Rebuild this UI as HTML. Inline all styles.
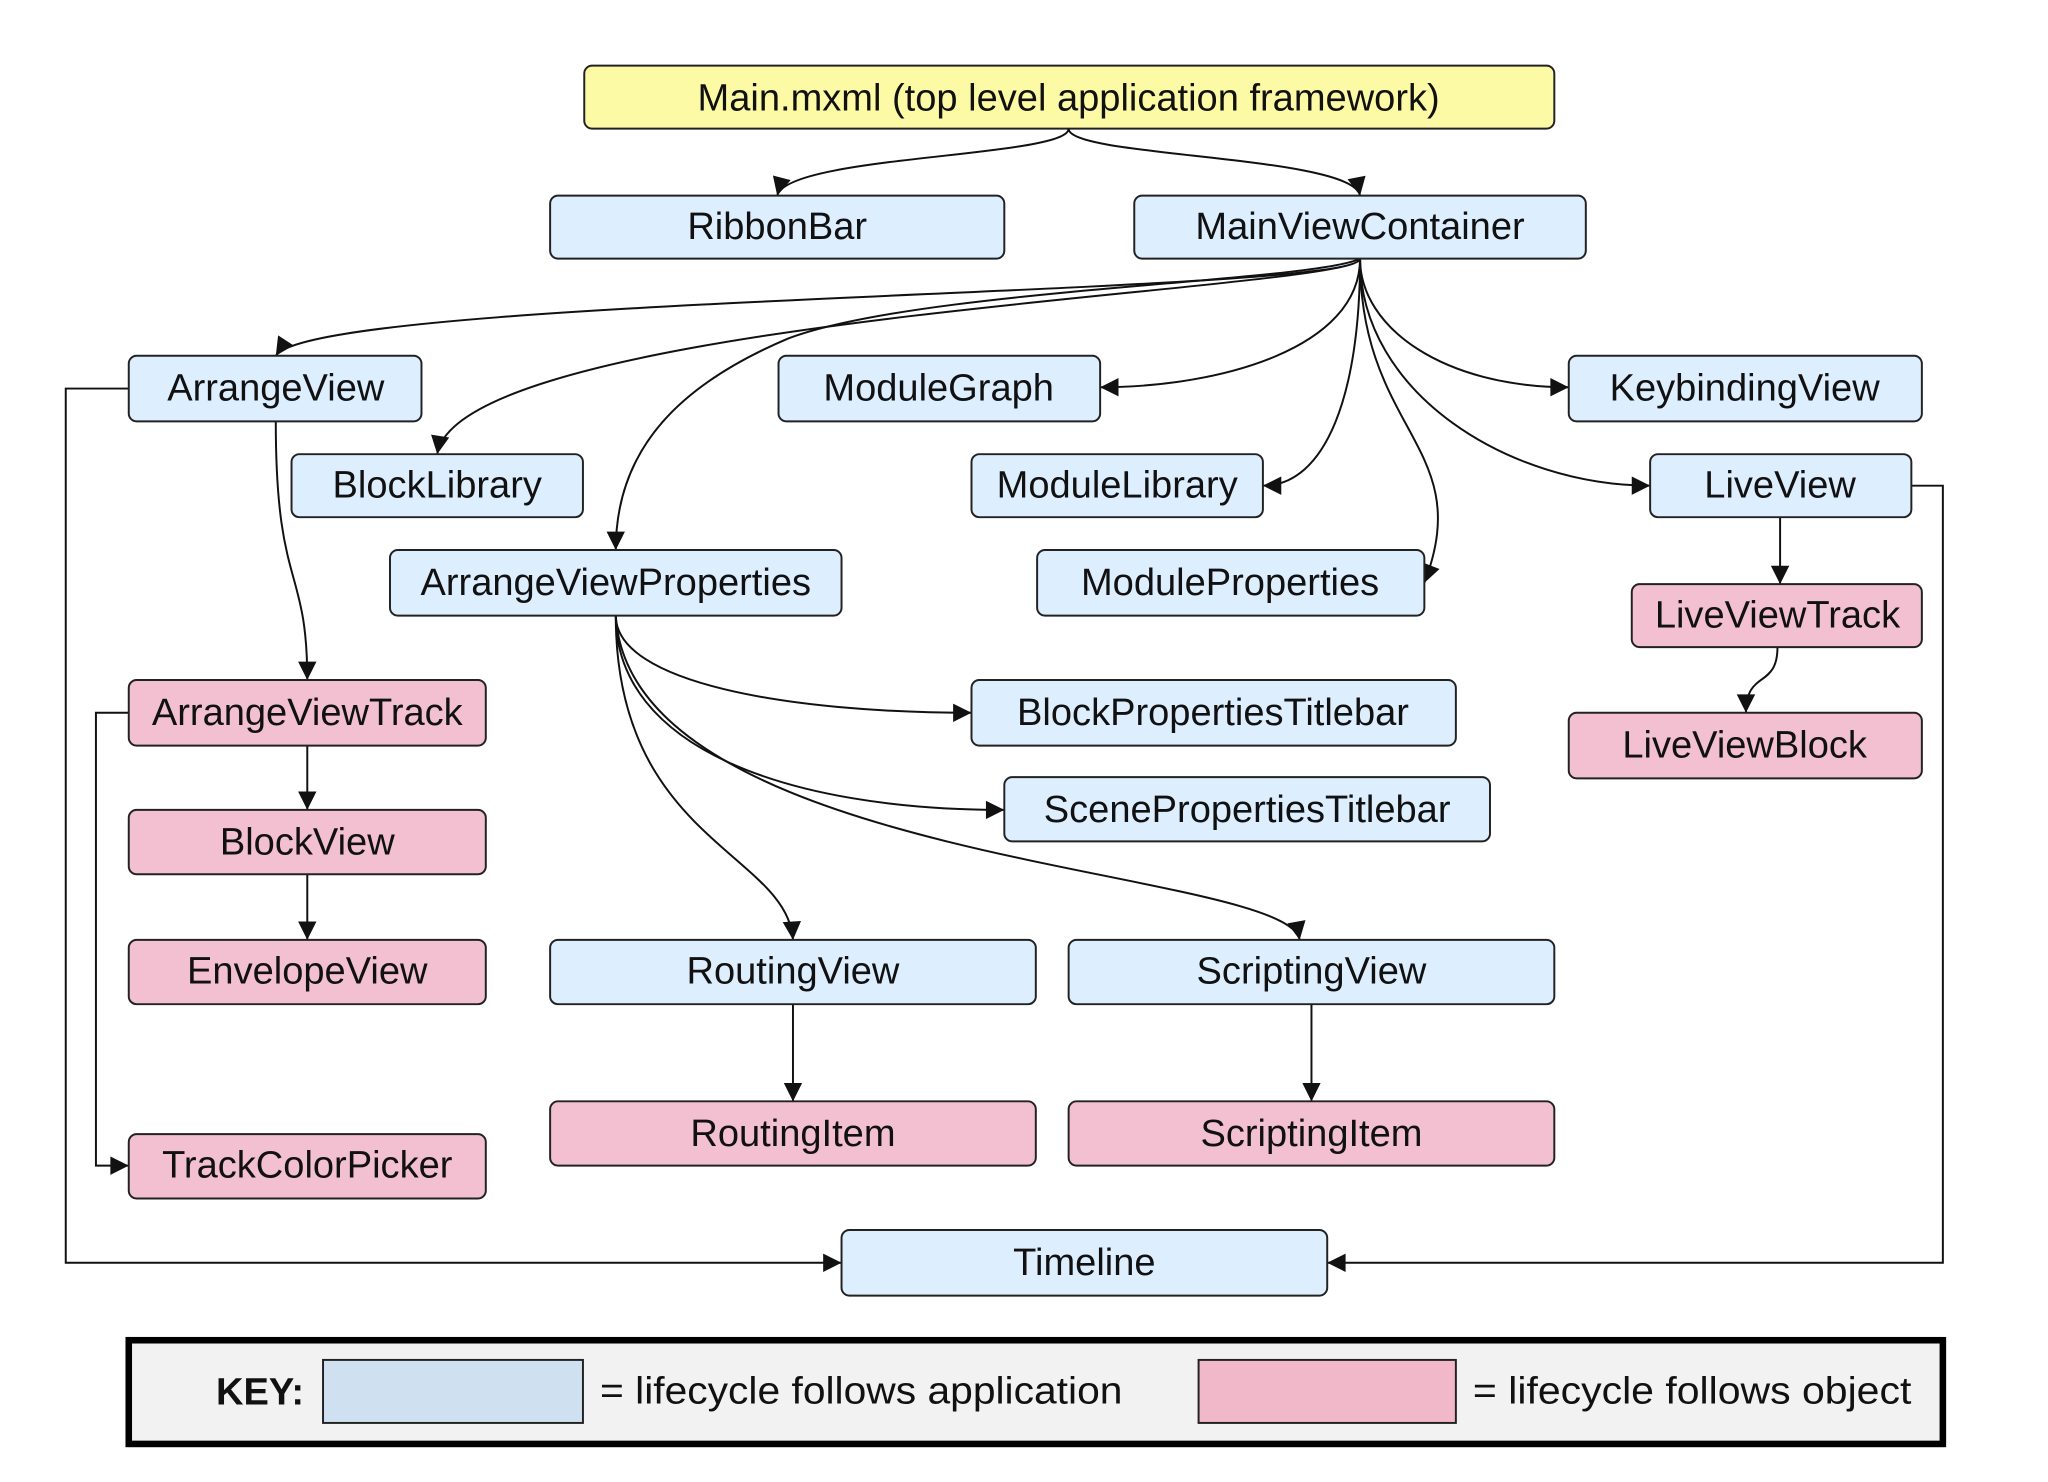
<!DOCTYPE html>
<html><head><meta charset="utf-8"><style>
html,body{margin:0;padding:0;background:#fff;}
svg{display:block;}
text{font-family:"Liberation Sans",Arial,sans-serif;font-size:29px;fill:#111;text-anchor:middle;dominant-baseline:central;}
.b{fill:#ddeeff;stroke:#222;stroke-width:1.5;}
.p{fill:#f2c0d0;stroke:#222;stroke-width:1.5;}
.e{fill:none;stroke:#111;stroke-width:1.5;}
</style></head><body>
<svg width="2048" height="1482" viewBox="0 0 1560 1129" xmlns="http://www.w3.org/2000/svg">
<defs><marker id="a" viewBox="0 0 10 10" refX="10" refY="5" markerWidth="18" markerHeight="14" markerUnits="userSpaceOnUse" orient="auto"><path d="M0,0 L10,5 L0,10 z" fill="#111"/></marker></defs>
<rect x="445" y="50" width="739" height="48" rx="6" fill="#fdfaa6" stroke="#222" stroke-width="1.5"/>
<text x="814" y="75">Main.mxml (top level application framework)</text>
<g class="e" marker-end="url(#a)">
<path d="M814,98 C814,120 600,118 592,149"/>
<path d="M814,98 C814,120 1030,118 1036,149"/>
<path d="M1036,197 C1036,225 240,225 210,271"/>
<path d="M1036,197 C1036,222 350,240 333,346"/>
<path d="M1036,197 C1000,215 700,220 600,258 C520,292 469,340 469,419"/>
<path d="M1036,197 C1036,265 930,295 838,295"/>
<path d="M1036,197 C1036,300 1010,370 962,370"/>
<path d="M1036,197 C1036,330 1125,340 1085,444"/>
<path d="M1036,197 C1036,250 1100,295 1195,295"/>
<path d="M1036,197 C1036,300 1150,370 1257,370"/>
<path d="M210,321 C210,450 234,430 234,518"/>
<path d="M98,296 L50,296 L50,962 L641,962"/>
<path d="M1456,370 L1480,370 L1480,962 L1011,962"/>
<path d="M98,543 L73,543 L73,888 L98,888"/>
<path d="M234,568 L234,617"/>
<path d="M234,666 L234,716"/>
<path d="M469,469 C469,520 600,543 740,543"/>
<path d="M469,469 C469,570 600,617 765,617"/>
<path d="M469,469 C469,640 600,650 604,716"/>
<path d="M469,469 C480,660 980,660 990,716"/>
<path d="M604,765 L604,839"/>
<path d="M999,765 L999,839"/>
<path d="M1356,394 L1356,445"/>
<path d="M1354,493 C1354,525 1330,510 1330,543"/>
</g>
<g>
<rect class="b" x="419" y="149" width="346" height="48" rx="6"/><text x="592" y="173">RibbonBar</text>
<rect class="b" x="864" y="149" width="344" height="48" rx="6"/><text x="1036" y="173">MainViewContainer</text>
<rect class="b" x="98" y="271" width="223" height="50" rx="6"/><text x="210" y="296">ArrangeView</text>
<rect class="b" x="593" y="271" width="245" height="50" rx="6"/><text x="715" y="296">ModuleGraph</text>
<rect class="b" x="1195" y="271" width="269" height="50" rx="6"/><text x="1329" y="296">KeybindingView</text>
<rect class="b" x="222" y="346" width="222" height="48" rx="6"/><text x="333" y="370">BlockLibrary</text>
<rect class="b" x="740" y="346" width="222" height="48" rx="6"/><text x="851" y="370">ModuleLibrary</text>
<rect class="b" x="1257" y="346" width="199" height="48" rx="6"/><text x="1356" y="370">LiveView</text>
<rect class="b" x="297" y="419" width="344" height="50" rx="6"/><text x="469" y="444">ArrangeViewProperties</text>
<rect class="b" x="790" y="419" width="295" height="50" rx="6"/><text x="937" y="444">ModuleProperties</text>
<rect class="p" x="1243" y="445" width="221" height="48" rx="6"/><text x="1354" y="469">LiveViewTrack</text>
<rect class="p" x="98" y="518" width="272" height="50" rx="6"/><text x="234" y="543">ArrangeViewTrack</text>
<rect class="b" x="740" y="518" width="369" height="50" rx="6"/><text x="924" y="543">BlockPropertiesTitlebar</text>
<rect class="p" x="1195" y="543" width="269" height="50" rx="6"/><text x="1329" y="568">LiveViewBlock</text>
<rect class="b" x="765" y="592" width="370" height="49" rx="6"/><text x="950" y="617">ScenePropertiesTitlebar</text>
<rect class="p" x="98" y="617" width="272" height="49" rx="6"/><text x="234" y="642">BlockView</text>
<rect class="p" x="98" y="716" width="272" height="49" rx="6"/><text x="234" y="740">EnvelopeView</text>
<rect class="b" x="419" y="716" width="370" height="49" rx="6"/><text x="604" y="740">RoutingView</text>
<rect class="b" x="814" y="716" width="370" height="49" rx="6"/><text x="999" y="740">ScriptingView</text>
<rect class="p" x="419" y="839" width="370" height="49" rx="6"/><text x="604" y="864">RoutingItem</text>
<rect class="p" x="814" y="839" width="370" height="49" rx="6"/><text x="999" y="864">ScriptingItem</text>
<rect class="p" x="98" y="864" width="272" height="49" rx="6"/><text x="234" y="888">TrackColorPicker</text>
<rect class="b" x="641" y="937" width="370" height="50" rx="6"/><text x="826" y="962">Timeline</text>
</g>
<rect x="98" y="1021" width="1382" height="79" fill="#f2f2f2" stroke="#000" stroke-width="5"/>
<text x="198" y="1061" style="font-weight:bold">KEY:</text>
<rect x="246" y="1036" width="198" height="48" fill="#cfe0f0" stroke="#222" stroke-width="1.5"/>
<text x="457" y="1060" style="text-anchor:start" textLength="398" lengthAdjust="spacingAndGlyphs">= lifecycle follows application</text>
<rect x="913" y="1036" width="196" height="48" fill="#f0b8c8" stroke="#222" stroke-width="1.5"/>
<text x="1122" y="1060" style="text-anchor:start" textLength="334" lengthAdjust="spacingAndGlyphs">= lifecycle follows object</text>
</svg>
</body></html>
